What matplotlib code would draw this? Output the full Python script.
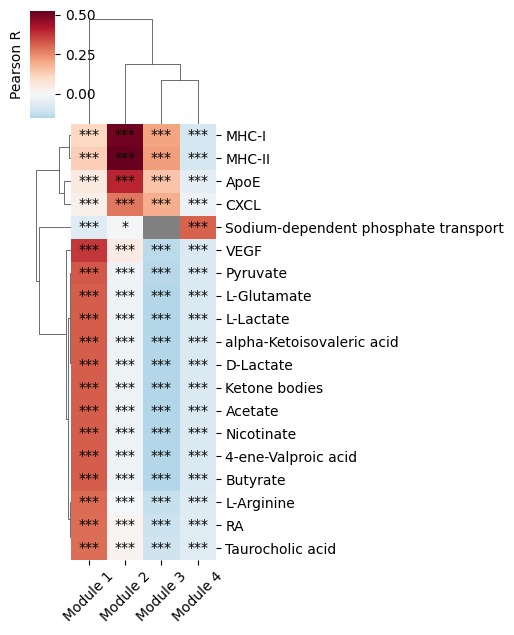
import numpy as np
import matplotlib
matplotlib.use("Agg")
import matplotlib.pyplot as plt
import seaborn as sns
import pandas as pd
from matplotlib.collections import LineCollection

# ---------------- data ----------------
rows = ["MHC-I", "MHC-II", "ApoE", "CXCL", "Sodium-dependent phosphate transport",
        "VEGF", "Pyruvate", "L-Glutamate", "L-Lactate", "alpha-Ketoisovaleric acid",
        "D-Lactate", "Ketone bodies", "Acetate", "Nicotinate", "4-ene-Valproic acid",
        "Butyrate", "L-Arginine", "RA", "Taurocholic acid"]
modules = ["Module 1", "Module 2", "Module 3", "Module 4"]

module1 = [0.11, 0.13, 0.05, 0.03, -0.06, 0.37, 0.325, 0.318, 0.318, 0.318,
           0.318, 0.318, 0.318, 0.318, 0.318, 0.318, 0.298, 0.292, 0.292]
module2 = [0.51, 0.525, 0.40, 0.28, -0.01, 0.045, -0.02, -0.025, -0.025, -0.025,
           -0.025, -0.025, -0.025, -0.025, -0.025, -0.025, -0.005, 0.012, 0.014]
module3 = [0.21, 0.22, 0.15, 0.19, np.nan, -0.14, -0.145, -0.150, -0.151, -0.152,
           -0.152, -0.153, -0.153, -0.154, -0.154, -0.155, -0.118, -0.112, -0.108]
module4 = [-0.09, -0.09, -0.05, -0.03, 0.31, -0.08, -0.073, -0.076, -0.076, -0.076,
           -0.076, -0.076, -0.076, -0.076, -0.076, -0.076, -0.066, -0.062, -0.060]

sig1 = ["***", "***", "***", "***", "***", "***", "***", "***", "***", "***",
        "***", "***", "***", "***", "***", "***", "***", "***", "***"]
sig2 = ["***", "***", "***", "***", "*", "***", "***", "***", "***", "***",
        "***", "***", "***", "***", "***", "***", "***", "***", "***"]
sig3 = ["***", "***", "***", "***", "", "***", "***", "***", "***", "***",
        "***", "***", "***", "***", "***", "***", "***", "***", "***"]
sig4 = ["***", "***", "***", "***", "***", "***", "***", "***", "***", "***",
        "***", "***", "***", "***", "***", "***", "***", "***", "***"]

df = pd.DataFrame({m: v for m, v in zip(modules, [module1, module2, module3, module4])}, index=rows)
annot = pd.DataFrame({m: v for m, v in zip(modules, [sig1, sig2, sig3, sig4])}, index=rows)


# ---------------- clustering (average linkage, euclidean) ----------------
def average_linkage(X):
    n = len(X)
    D = np.sqrt(((X[:, None, :] - X[None, :, :]) ** 2).sum(-1))
    clusters = {i: [i] for i in range(n)}
    merges = []
    nid = n
    while len(clusters) > 1:
        ids = sorted(clusters)
        best = None
        for k, a in enumerate(ids):
            for b in ids[k + 1:]:
                d = D[np.ix_(clusters[a], clusters[b])].mean()
                if best is None or d < best[2] - 1e-12:
                    best = (a, b, d)
        a, b, d = best
        if min(clusters[a]) > min(clusters[b]):
            a, b = b, a
        clusters[nid] = clusters[a] + clusters[b]
        merges.append((nid, a, b, d))
        del clusters[a], clusters[b]
        nid += 1
    return merges, n


def dendro(X):
    merges, n = average_linkage(X)
    children = {m[0]: (m[1], m[2], m[3]) for m in merges}
    root = merges[-1][0]

    def order(node):
        if node < n:
            return [node]
        a, b, _ = children[node]
        return order(a) + order(b)

    leaves = order(root)
    pos = {leaf: i + 0.5 for i, leaf in enumerate(leaves)}
    hgt = {leaf: 0.0 for leaf in leaves}
    segs = []
    for nid, a, b, d in merges:
        pa, pb = pos[a], pos[b]
        segs.append([(pa, hgt[a]), (pa, d), (pb, d), (pb, hgt[b])])
        pos[nid] = (pa + pb) / 2
        hgt[nid] = d
    return leaves, segs, merges[-1][3]


Xfill = df.fillna(0).values
row_leaves, row_segs, row_max = dendro(Xfill)
col_leaves, col_segs, col_max = dendro(Xfill.T)

dfo = df.iloc[row_leaves, col_leaves]
anno = annot.iloc[row_leaves, col_leaves]

# ---------------- figure ----------------
fig = plt.figure(figsize=(5.14, 6.35), dpi=100)
W, H = 514, 635
def box(x0, y0, x1, y1):
    return [x0 / W, 1 - y1 / H, (x1 - x0) / W, (y1 - y0) / H]

hm_l, hm_r, hm_t, hm_b = 71, 215.7, 124, 559.5
ax_hm = fig.add_axes(box(hm_l, hm_t, hm_r, hm_b))
cax = fig.add_axes(box(30, 11, 55, 118.3))
col_h = (hm_t - 19) * 1.05
ax_col = fig.add_axes(box(hm_l, hm_t - col_h, hm_r, hm_t))
row_w = (hm_l - 36.3) * 1.05
ax_row = fig.add_axes(box(hm_l - row_w, hm_t, hm_l, hm_b))

sns.heatmap(dfo, ax=ax_hm, cbar_ax=cax, cmap="RdBu_r", center=0,
            mask=dfo.isna(), annot=anno.values, fmt="",
            annot_kws={"color": "black", "fontsize": 10},
            xticklabels=True, yticklabels=True)
ax_hm.set_facecolor("gray")
ax_hm.yaxis.tick_right()
ax_hm.tick_params(axis="y", labelright=True, labelleft=False)
plt.setp(ax_hm.get_yticklabels(), rotation=0)
plt.setp(ax_hm.get_xticklabels(), rotation=45)
ax_hm.set_xlabel("")
ax_hm.set_ylabel("")

cb = ax_hm.collections[0].colorbar
cb.set_ticks([0.0, 0.25, 0.5])
cb.ax.set_yticklabels(["0.00", "0.25", "0.50"])
cb.set_label("Pearson R")
cb.ax.yaxis.set_label_position("left")
cb.outline.set_linewidth(0)

tree_color = (0.2, 0.2, 0.2)
ax_col.add_collection(LineCollection(col_segs, linewidths=0.5, colors=[tree_color]))
ax_col.set_xlim(0, len(col_leaves))
ax_col.set_ylim(0, col_max * 1.05)
ax_col.axis("off")

rsegs = [[(y, x) for (x, y) in s] for s in row_segs]
ax_row.add_collection(LineCollection(rsegs, linewidths=0.5, colors=[tree_color]))
ax_row.set_ylim(len(row_leaves), 0)
ax_row.set_xlim(row_max * 1.05, 0)
ax_row.axis("off")

fig.savefig("out.png", dpi=100)
